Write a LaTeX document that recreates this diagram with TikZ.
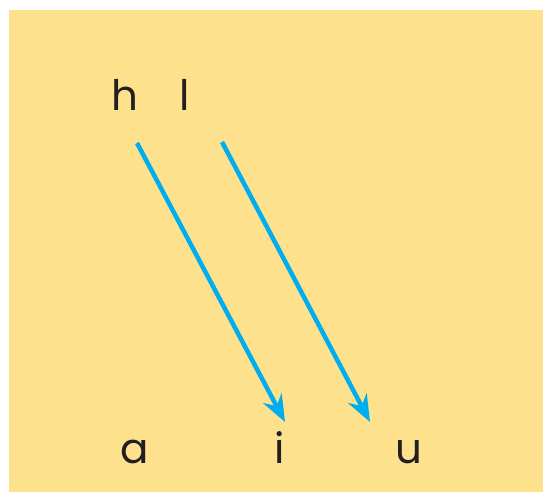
\documentclass[tikz,border=0pt]{standalone}
\usepackage{fontspec}
\setmainfont{Poppins}
\usetikzlibrary{arrows.meta}
\definecolor{bgyellow}{HTML}{FDE18C}
\definecolor{arrowblue}{HTML}{00AEEF}
\definecolor{txt}{HTML}{231F20}
\begin{document}
\begin{tikzpicture}[x=1pt,y=-1pt,
  letter/.style={anchor=base,inner sep=0pt,font=\fontsize{42}{42}\selectfont,text=txt},
  link/.style={draw=arrowblue,line width=4.5pt,-{Stealth[length=27pt,width=21pt,inset=9pt]}}]
\useasboundingbox (0,0) rectangle (543,492);
\fill[bgyellow] (9,10) rectangle (543,492);
\node[letter] (h) at (124.5,111) {h};
\node[letter] (l) at (184.5,111) {l};
\node[letter] (a) at (135,463) {a};
\node[letter] (i) at (280,463) {i};
\node[letter] (u) at (409,463) {u};
\coordinate (s1) at (137,143);
\coordinate (e1) at (285,422);
\coordinate (s2) at (222,142);
\coordinate (e2) at (370,422);
\draw[link] (s1) -- (e1);
\draw[link] (s2) -- (e2);
\end{tikzpicture}
\end{document}
